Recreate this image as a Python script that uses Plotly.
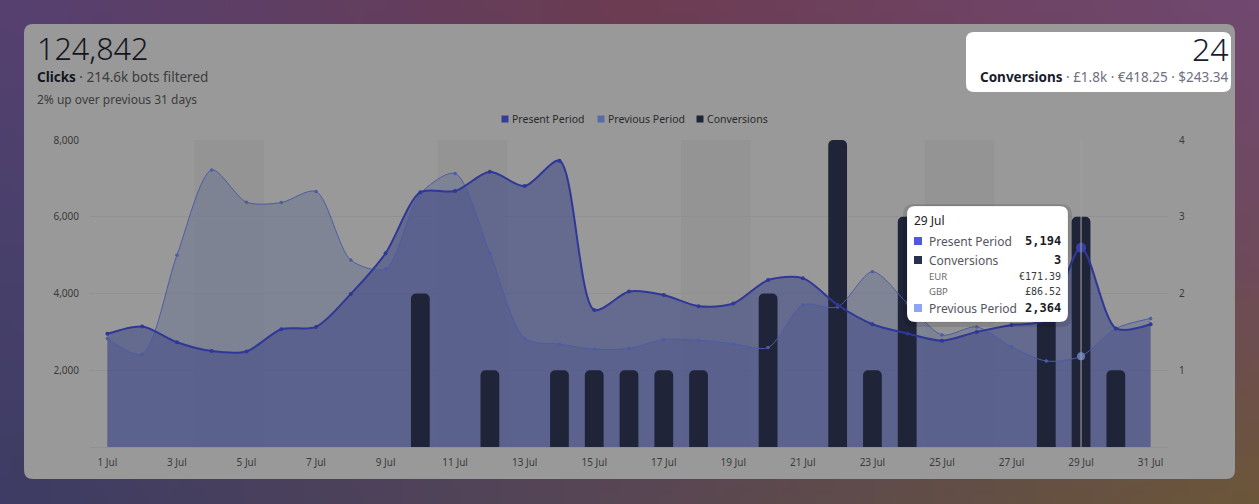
import base64
import struct
import zlib
import plotly.graph_objects as go

# ---------------- data ----------------
days = [f"{d} Jul" for d in range(1, 32)]
present = [2950, 3140, 2730, 2500, 2490, 3070, 3130, 3990, 5050, 6640,
           6670, 7170, 6800, 7460, 3570, 4050, 3960, 3670, 3740, 4350,
           4400, 3700, 3200, 2960, 2770, 3000, 3180, 3320, 5194, 3090, 3200]
previous = [2830, 2420, 5000, 7220, 6380, 6370, 6660, 4870, 4640, 6600,
            7130, 5050, 2830, 2680, 2550, 2570, 2800, 2780, 2690, 2590,
            3700, 3650, 4570, 3750, 2920, 3130, 2610, 2240, 2364, 3090, 3350]
conversions = [0, 0, 0, 0, 0, 0, 0, 0, 0, 2,
               0, 1, 0, 1, 1, 1, 1, 1, 0, 2,
               0, 4, 1, 3, 0, 0, 0, 2, 3, 1, 0]
series_names = ["Present Period", "Previous Period", "Conversions"]
tick_days = days[::2]
left_ticks = [2000, 4000, 6000, 8000]
right_ticks = [1, 2, 3, 4]
weekends = [("4 Jul", "5 Jul"), ("11 Jul", "12 Jul"), ("18 Jul", "19 Jul"), ("25 Jul", "26 Jul")]
hover_day = "29 Jul"
hover_currency = [("EUR", "€171.39"), ("GBP", "£86.52")]
total_clicks = "124,842"
bots_filtered = "214.6k bots filtered"
change_text = "2% up over previous 31 days"
total_conversions = "24"
conversion_values = ["£1.8k", "€418.25", "$243.34"]

# ---------------- geometry helpers ----------------
W, H = 1259, 504
L, R, T, B = 90, 1168, 140, 447


def px(x):
    return (x - L) / (R - L)


def py(y):
    return (B - y) / (B - T)


def rrect(x0, y0, x1, y1, r):
    pts = [("M", x0 + r, y0), ("L", x1 - r, y0), ("Q", x1, y0, x1, y0 + r),
           ("L", x1, y1 - r), ("Q", x1, y1, x1 - r, y1), ("L", x0 + r, y1),
           ("Q", x0, y1, x0, y1 - r), ("L", x0, y0 + r), ("Q", x0, y0, x0 + r, y0)]
    out = []
    for p in pts:
        cmd, vals = p[0], p[1:]
        coords = []
        for i in range(0, len(vals), 2):
            coords.append(f"{px(vals[i]):.5f},{py(vals[i + 1]):.5f}")
        out.append(cmd + " ".join(coords))
    return " ".join(out) + " Z"


def gradient_png(w, h):
    grid = {
        (0, 0): (86, 64, 112), (1, 0): (108, 60, 82), (2, 0): (112, 72, 112),
        (0, 1): (72, 64, 108), (1, 1): (96, 66, 96), (2, 1): (110, 74, 92),
        (0, 2): (62, 60, 100), (1, 2): (88, 70, 84), (2, 2): (108, 86, 58),
    }
    rows = []
    for j in range(h):
        v = j / (h - 1) * 2
        j0 = min(int(v), 1)
        fv = v - j0
        row = bytearray([0])
        for i in range(w):
            u = i / (w - 1) * 2
            i0 = min(int(u), 1)
            fu = u - i0
            c = []
            for k in range(3):
                a = grid[(i0, j0)][k] * (1 - fu) + grid[(i0 + 1, j0)][k] * fu
                b = grid[(i0, j0 + 1)][k] * (1 - fu) + grid[(i0 + 1, j0 + 1)][k] * fu
                c.append(int(round(a * (1 - fv) + b * fv)))
            row.extend(c)
        rows.append(bytes(row))
    raw = b"".join(rows)

    def chunk(t, d):
        return struct.pack(">I", len(d)) + t + d + struct.pack(">I", zlib.crc32(t + d) & 0xffffffff)

    png = (b"\x89PNG\r\n\x1a\n" + chunk(b"IHDR", struct.pack(">IIBBBBB", w, h, 8, 2, 0, 0, 0))
           + chunk(b"IDAT", zlib.compress(raw)) + chunk(b"IEND", b""))
    return "data:image/png;base64," + base64.b64encode(png).decode()


# ---------------- colours ----------------
C_PRES_LINE = "#2f3896"
C_PREV_LINE = "#4d5ca6"
C_PRES_FILL = "rgba(67,75,137,0.6)"
C_PREV_FILL = "rgba(101,113,145,0.5)"
C_BAR = "#1f2439"
TICK = "#3a3a3a"
LEGEND_COLORS = ["#343e96", "#5a6aa8", "#1f2439"]

fig = go.Figure()

# fills (main subplot)
fig.add_trace(go.Scatter(x=days, y=previous, mode="none", fill="tozeroy", fillcolor=C_PREV_FILL,
                         line=dict(shape="spline", smoothing=0.8), showlegend=False, hoverinfo="skip"))
fig.add_trace(go.Scatter(x=days, y=present, mode="none", fill="tozeroy", fillcolor=C_PRES_FILL,
                         line=dict(shape="spline", smoothing=0.8), showlegend=False, hoverinfo="skip"))
# bars (overlay y2)
fig.add_trace(go.Bar(x=days, y=conversions, yaxis="y2", width=0.54,
                     marker=dict(color=C_BAR, cornerradius=5, line=dict(width=0)),
                     showlegend=False, hoverinfo="skip"))
# lines (overlay y3)
fig.add_trace(go.Scatter(x=days, y=previous, yaxis="y3", mode="lines+markers",
                         line=dict(color=C_PREV_LINE, width=1, shape="spline", smoothing=0.8),
                         marker=dict(size=3.5, color=C_PREV_LINE), showlegend=False, hoverinfo="skip"))
fig.add_trace(go.Scatter(x=days, y=present, yaxis="y3", mode="lines+markers",
                         line=dict(color=C_PRES_LINE, width=2, shape="spline", smoothing=0.8),
                         marker=dict(size=4, color=C_PRES_LINE), showlegend=False, hoverinfo="skip"))
hi = days.index(hover_day)
fig.add_trace(go.Scatter(x=[hover_day], y=[previous[hi]], yaxis="y3", mode="markers",
                         marker=dict(size=8, color="#6676b2"), showlegend=False, hoverinfo="skip"))
fig.add_trace(go.Scatter(x=[hover_day], y=[present[hi]], yaxis="y3", mode="markers",
                         marker=dict(size=10, color="#3740a4"), showlegend=False, hoverinfo="skip"))

# card background
fig.add_shape(type="path", xref="paper", yref="paper", path=rrect(24, 24, 1235, 479, 9),
              fillcolor="#999999", line=dict(width=0), layer="below")

# weekend bands
for a, b in weekends:
    fig.add_shape(type="rect", xref="x", yref="paper", x0=days.index(a) - 0.5, x1=days.index(b) + 0.5,
                  y0=0, y1=1, fillcolor="#949494", line=dict(width=0), layer="below")

# hover line
fig.add_shape(type="line", xref="x", yref="paper", x0=hover_day, x1=hover_day, y0=0, y1=1,
              line=dict(color="rgba(160,160,160,0.9)", width=1.2), layer="above")

# conversions box (top right)
fig.add_shape(type="path", xref="paper", yref="paper", path=rrect(966, 32, 1231, 92, 8),
              fillcolor="#ffffff", line=dict(width=0), layer="above")
# tooltip
fig.add_shape(type="path", xref="paper", yref="paper", path=rrect(903, 204, 1072, 327, 11),
              fillcolor="rgba(0,0,0,0.10)", line=dict(width=0), layer="above")
fig.add_shape(type="path", xref="paper", yref="paper", path=rrect(907, 206, 1068, 322, 8),
              fillcolor="#ffffff", line=dict(color="rgba(0,0,0,0.10)", width=1), layer="above")

ann = []


def text(x, y, s, size, color, anchor="left", family="Noto Sans", weight=None):
    f = dict(size=size, color=color, family=family)
    if weight:
        f["weight"] = weight
    ann.append(dict(xref="paper", yref="paper", x=px(x), y=py(y), text=s, showarrow=False,
                    xanchor=anchor, yanchor="middle", font=f))


def square(cx, cy, s, col):
    fig.add_shape(type="rect", xref="paper", yref="paper", x0=px(cx - s / 2), x1=px(cx + s / 2),
                  y0=py(cy + s / 2), y1=py(cy - s / 2), fillcolor=col, line=dict(width=0), layer="above")


text(35, 48, total_clicks, 30.5, "#14161f", weight=300)
text(35, 77, f"<b><span style='color:#14161f'>Clicks</span></b> · {bots_filtered}", 13.5, "#3c3c3c")
text(35, 100, change_text, 12, "#3c3c3c")
text(1231, 48, total_conversions, 32, "#1a1c2e", anchor="right", weight=300)
text(1231, 77, "<b><span style='color:#1a1c2e'>Conversions</span></b> · " + " · ".join(conversion_values),
     13.5, "#707080", anchor="right")

# legend (compact, like the reference)
for name, col, cx in zip(series_names, LEGEND_COLORS, [505, 601, 700]):
    square(cx, 119, 7, col)
    text(cx + 5, 119, name, 10.5, "#2a2a2a")

# tooltip content
MONO = "DejaVu Sans Mono"
text(912, 220, hover_day, 12, "#222222")
rows = [(241, "#5058e0", series_names[0], f"{present[hi]:,}"),
        (260, "#283050", series_names[2], f"{conversions[hi]}"),
        (308, "#8ea4f8", series_names[1], f"{previous[hi]:,}")]
for y, col, lab, val in rows:
    square(918, y, 8, col)
    text(927, y, lab, 12, "#555560")
    text(1063, y, f"<b>{val}</b>", 12, "#1c1c24", anchor="right", family=MONO)
for (lab, val), y in zip(hover_currency, [276, 291]):
    text(927, y, lab, 9.5, "#6a6a70")
    text(1063, y, val, 10, "#3a3a40", anchor="right", family=MONO)

fig.update_layout(
    template="none",
    width=W, height=H,
    margin=dict(l=L, r=W - R, t=T, b=H - B, pad=0),
    paper_bgcolor="#5a4866",
    plot_bgcolor="rgba(0,0,0,0)",
    font=dict(family="Noto Sans", color=TICK),
    hovermode=False,
    barmode="overlay",
    showlegend=False,
    annotations=ann,
    images=[dict(source=gradient_png(64, 26), xref="paper", yref="paper", x=px(0), y=py(0),
                 sizex=px(W) - px(0), sizey=py(0) - py(H), xanchor="left", yanchor="top",
                 sizing="stretch", layer="below")],
    xaxis=dict(type="category", range=[-0.5, 30.5], tickvals=tick_days, showgrid=False, zeroline=False,
               showline=True, linecolor="#919191", linewidth=1, ticks="", ticklabelstandoff=6,
               tickfont=dict(size=10, color=TICK), fixedrange=True),
    yaxis=dict(range=[0, 8000], tickvals=left_ticks, tickformat=",", showgrid=True, gridcolor="#919191",
               gridwidth=1, showline=False, zeroline=False, ticks="", ticklabelstandoff=10,
               tickfont=dict(size=10, color=TICK), fixedrange=True),
    yaxis2=dict(range=[0, 4], overlaying="y", side="right", tickvals=right_ticks, showgrid=False,
                zeroline=False, showline=False, ticks="", ticklabelstandoff=10,
                tickfont=dict(size=10, color=TICK), fixedrange=True),
    yaxis3=dict(range=[0, 8000], overlaying="y", visible=False, fixedrange=True),
)

fig.write_html("out.html", config={"displayModeBar": False},
               post_script="document.body.style.margin='0px';")
